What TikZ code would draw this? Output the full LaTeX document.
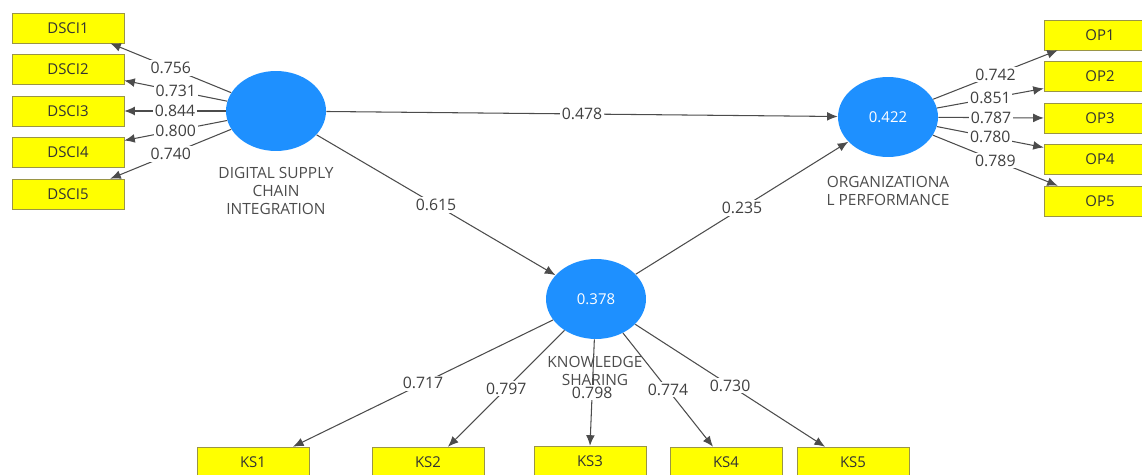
\documentclass[tikz,border=0pt]{standalone}
\usepackage{fontspec}
\setmainfont{Open Sans}
\usetikzlibrary{arrows.meta,shapes.geometric}

\definecolor{lvblue}{RGB}{30,144,255}
\definecolor{mvyellow}{RGB}{255,255,0}

\tikzset{
  >={Latex[length=6pt,width=5pt]},
  latent/.style={ellipse, fill=lvblue, minimum width=2cm, minimum height=1.6cm, inner sep=0pt, text=white, font=\fontsize{8.5}{10}\selectfont},
  indicator/.style={draw=yellow!55!black, line width=0.3pt, fill=mvyellow, minimum width=2.24cm, minimum height=0.6cm, inner sep=0pt, text=black!80, font=\fontsize{8.5}{10}\selectfont},
  relarrow/.style={->, draw=black!70, line width=0.6pt},
  coef/.style={fill=white, inner sep=1pt, text=black!75, font=\fontsize{9}{10}\selectfont},
  lvname/.style={align=center, text=black!70, font=\fontsize{8.8}{10.2}\selectfont}
}

\begin{document}
\begin{tikzpicture}[x=0.02cm, y=-0.02cm]
    \useasboundingbox (0,0) rectangle (1142,475);

    % Variaveis latentes
    \node[latent] (dsci) at (276,111) {};
    \node[latent] (op) at (888,117) {0.422};
    \node[latent] (ks) at (596,299) {0.378};

    % Indicadores
    \node[indicator] (dsci1) at (68,28) {DSCI1};
    \node[indicator] (dsci2) at (68,69.5) {DSCI2};
    \node[indicator] (dsci3) at (68,111) {DSCI3};
    \node[indicator] (dsci4) at (68,152.5) {DSCI4};
    \node[indicator] (dsci5) at (68,194) {DSCI5};

    \node[indicator] (op1) at (1100,35) {OP1};
    \node[indicator] (op2) at (1100,76.5) {OP2};
    \node[indicator] (op3) at (1100,118) {OP3};
    \node[indicator] (op4) at (1100,159.5) {OP4};
    \node[indicator] (op5) at (1100,201) {OP5};

    \node[indicator] (ks1) at (253,462) {KS1};
    \node[indicator] (ks2) at (428,462) {KS2};
    \node[indicator] (ks3) at (590,461) {KS3};
    \node[indicator] (ks4) at (726,462) {KS4};
    \node[indicator] (ks5) at (853,462) {KS5};

    % Cargas externas
    \draw[relarrow] (dsci) -- node[coef] {0.756} ([xshift=-0.28cm]dsci1.south east);
    \draw[relarrow] (dsci) -- node[coef] {0.731} ([yshift=-0.22cm]dsci2.east);
    \draw[relarrow] (dsci) -- node[coef] {0.844} (dsci3.east);
    \draw[relarrow] (dsci) -- node[coef] {0.800} ([yshift=0.24cm]dsci4.east);
    \draw[relarrow] (dsci) -- node[coef] {0.740} ([xshift=-0.28cm]dsci5.north east);

    \draw[relarrow] (op) -- node[coef] {0.742} ([xshift=0.28cm]op1.south west);
    \draw[relarrow] (op) -- node[coef] {0.851} ([yshift=-0.24cm]op2.west);
    \draw[relarrow] (op) -- node[coef] {0.787} (op3.west);
    \draw[relarrow] (op) -- node[coef] {0.780} ([yshift=0.24cm]op4.west);
    \draw[relarrow] (op) -- node[coef] {0.789} ([xshift=0.28cm]op5.north west);

    \draw[relarrow] (ks) -- node[coef] {0.717} ([xshift=0.8cm]ks1.north);
    \draw[relarrow] (ks) -- node[coef] {0.797} ([xshift=0.4cm]ks2.north);
    \draw[relarrow] (ks) -- node[coef] {0.798} (ks3.north);
    \draw[relarrow] (ks) -- node[coef] {0.774} ([xshift=-0.26cm]ks4.north);
    \draw[relarrow] (ks) -- node[coef] {0.730} ([xshift=-0.56cm]ks5.north);

    % Modelo estrutural
    \draw[relarrow] (dsci) -- node[coef] {0.478} (op);
    \draw[relarrow] (dsci) -- node[coef] {0.615} (ks);
    \draw[relarrow] (ks) -- node[coef] {0.235} (op);

    % Nomes dos construtos
    \node[lvname] (dsciname) at (276,191) {DIGITAL SUPPLY\\CHAIN\\INTEGRATION};
    \node[lvname] (opname) at (888,191) {ORGANIZATIONA\\L PERFORMANCE};
    \node[lvname] (ksname) at (595,371) {KNOWLEDGE\\SHARING};
\end{tikzpicture}
\end{document}
